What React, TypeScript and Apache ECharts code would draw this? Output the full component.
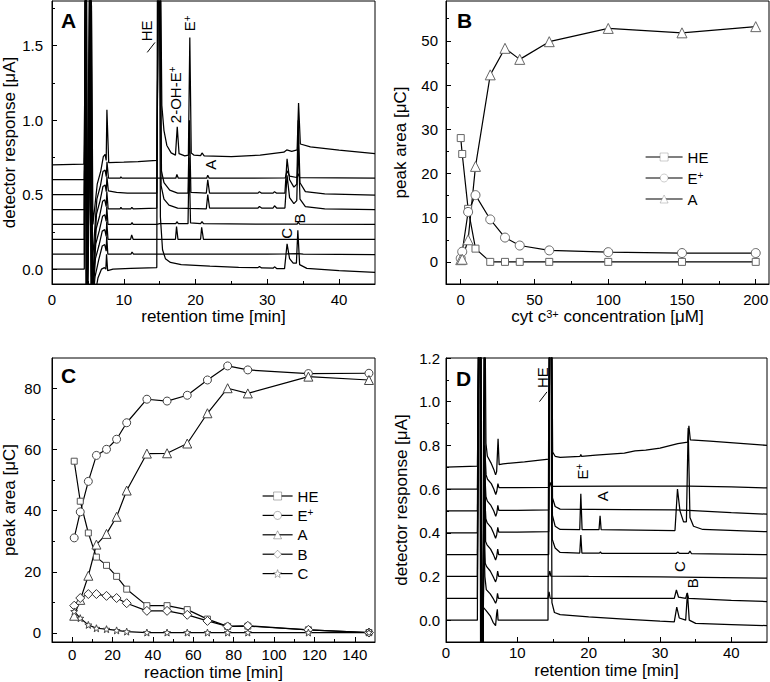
import React, { useEffect, useRef } from 'react';
import * as echarts from 'echarts';

const FONT = "'Liberation Sans', Arial, Helvetica, sans-serif";

// ---------- Panel A: chromatograms (retention time [min], response [µA]) ----------
const chromA0 = [[0,0.0],[4.5,0.0],[4.62,2.2],[4.75,-0.3],[4.9,0.05],[5.25,2.2],[5.45,-0.3],[5.9,-0.2],[6.4,-0.06],[6.9,0.0],[7.3,0.01],[7.5,0.0],[7.6,0.1],[7.75,-0.01],[8.5,0.0],[11,0.005],[14.6,0.01],[14.7,2.2],[14.95,2.2],[15.1,0.35],[15.4,0.13],[15.8,0.07],[16.5,0.045],[18,0.03],[22,0.02],[26,0.012],[28.7,0.01],[28.9,0.018],[29.2,0.008],[30.8,0.006],[31.0,0.015],[31.3,0.004],[32.4,0.003],[32.75,0.17],[33.1,0.07],[33.6,0.04],[34.05,0.04],[34.25,0.26],[34.5,0.03],[35.5,0.005],[40,-0.01],[45,-0.022]];
const chromA1 = [[0,0.1],[4.5,0.1],[4.65,2.2],[4.8,-0.3],[4.95,0.12],[5.3,2.2],[5.5,-0.3],[6.0,-0.05],[6.5,0.06],[7.0,0.155],[7.35,0.165],[7.55,0.12],[7.62,0.22],[7.78,0.1],[9,0.1],[11.0,0.1],[11.15,0.115],[11.35,0.1],[14.6,0.1],[17,0.1],[20,0.1],[25,0.1],[30,0.1],[32.7,0.102],[34.3,0.104],[35,0.1],[45,0.098]];
const chromA2 = [[0,0.2],[4.5,0.2],[4.68,2.2],[4.83,-0.3],[5.0,0.22],[5.35,2.2],[5.55,-0.3],[6.05,0.07],[6.55,0.16],[7.0,0.255],[7.35,0.265],[7.55,0.22],[7.63,0.32],[7.8,0.2],[9,0.2],[10.95,0.2],[11.1,0.23],[11.3,0.2],[14.6,0.2],[17.2,0.2],[17.35,0.285],[17.55,0.2],[20.7,0.2],[20.85,0.28],[21.1,0.2],[30,0.2],[45,0.2]];
const chromA3 = [[0,0.3],[4.5,0.3],[4.7,2.2],[4.85,-0.3],[5.05,0.33],[5.4,2.2],[5.6,-0.2],[6.1,0.17],[6.6,0.26],[7.05,0.355],[7.35,0.365],[7.55,0.32],[7.63,0.42],[7.8,0.3],[9,0.3],[11.0,0.3],[11.15,0.312],[11.3,0.3],[14.6,0.3],[15.0,0.305],[17.25,0.305],[17.4,0.318],[17.6,0.305],[18.95,0.305],[19.1,0.75],[19.3,0.31],[20.7,0.305],[20.9,0.318],[21.1,0.305],[30,0.302],[34.15,0.302],[34.3,0.315],[34.5,0.302],[45,0.3]];
const chromA4 = [[0,0.4],[4.5,0.4],[4.72,2.2],[4.87,-0.3],[5.1,0.45],[5.42,2.2],[5.62,-0.15],[6.15,0.27],[6.65,0.36],[7.05,0.455],[7.35,0.465],[7.55,0.42],[7.64,0.52],[7.82,0.405],[9.5,0.405],[9.6,0.415],[9.75,0.405],[11.0,0.405],[11.12,0.415],[11.3,0.405],[14.6,0.41],[14.8,2.2],[15.0,2.2],[15.2,0.56],[15.6,0.47],[16.3,0.43],[17.5,0.41],[19,0.407],[21.5,0.405],[21.7,0.5],[21.95,0.41],[28.7,0.41],[28.9,0.42],[29.2,0.41],[30.8,0.41],[31.0,0.425],[31.3,0.41],[32.45,0.41],[32.75,0.63],[33.1,0.48],[33.7,0.44],[34.1,0.46],[34.3,0.85],[34.55,0.47],[35.3,0.42],[38,0.405],[45,0.4]];
const chromA5 = [[0,0.5],[4.5,0.5],[4.75,2.2],[4.9,-0.3],[5.15,0.55],[5.45,2.2],[5.65,-0.1],[6.2,0.37],[6.7,0.46],[7.1,0.555],[7.4,0.565],[7.56,0.52],[7.65,0.62],[7.85,0.525],[9,0.515],[10.5,0.51],[14.6,0.51],[14.85,2.2],[15.05,2.2],[15.25,0.66],[15.6,0.58],[16.4,0.53],[17.5,0.51],[18.95,0.51],[19.15,1.0],[19.35,0.515],[21.5,0.51],[21.7,0.6],[21.95,0.51],[28.7,0.51],[28.9,0.52],[29.2,0.51],[30.8,0.51],[31.0,0.52],[31.3,0.51],[32.45,0.51],[32.75,0.74],[33.1,0.6],[33.7,0.55],[34.1,0.57],[34.3,1.0],[34.55,0.58],[35.3,0.52],[38,0.505],[45,0.497]];
const chromA6 = [[0,0.6],[4.5,0.6],[4.78,2.2],[4.92,-0.3],[5.1,0.95],[5.25,0.65],[5.5,-0.05],[6.25,0.47],[6.75,0.56],[7.1,0.655],[7.4,0.665],[7.56,0.62],[7.66,0.72],[7.87,0.61],[9.5,0.61],[9.6,0.62],[9.75,0.61],[14.6,0.61],[17.25,0.61],[17.4,0.635],[17.6,0.61],[21.55,0.61],[21.7,0.63],[21.9,0.61],[32.5,0.612],[32.75,0.66],[33.1,0.625],[34.1,0.615],[34.3,0.64],[34.5,0.615],[45,0.61]];
const chromA7 = [[0,0.7],[4.45,0.705],[4.8,2.2],[4.95,-0.3],[5.2,0.6],[5.5,1.77],[5.7,0.3],[6.3,0.57],[6.8,0.66],[7.15,0.755],[7.4,0.77],[7.55,0.73],[7.65,1.07],[7.9,0.715],[10,0.718],[12,0.722],[14.6,0.73],[14.9,2.2],[15.1,2.2],[15.3,1.1],[15.6,0.93],[16.0,0.83],[16.6,0.78],[17.2,0.765],[17.45,0.955],[17.7,0.775],[18.5,0.76],[19.0,0.765],[19.2,1.555],[19.4,0.78],[19.8,0.765],[20.7,0.762],[20.9,0.78],[21.2,0.76],[25,0.755],[29,0.765],[32.3,0.785],[32.7,0.80],[33.4,0.79],[34.15,0.8],[34.35,1.115],[34.6,0.84],[36,0.82],[40,0.798],[45,0.775]];
const chromA = [chromA0, chromA1, chromA2, chromA3, chromA4, chromA5, chromA6, chromA7];

// ---------- Panel D: chromatograms ----------
const chromD0 = [[0,0.0],[4.4,0.0],[4.55,1.5],[4.75,1.5],[4.85,-0.2],[5.05,-0.2],[5.2,0.06],[5.6,0.045],[6.2,0.02],[6.6,-0.01],[6.95,-0.025],[7.1,0.03],[7.2,0.05],[7.3,0.0],[7.6,0.0],[10,0.0],[14.3,0.0],[14.45,1.5],[14.7,1.5],[14.85,0.08],[15.2,0.035],[16,0.025],[20,0.015],[25,0.005],[30,-0.005],[32.0,-0.008],[32.35,0.06],[32.7,0.01],[33.6,0.0],[33.85,0.125],[34.1,0.0],[35,-0.015],[40,-0.02],[45,-0.025]];
const chromD1 = [[0,0.1],[4.4,0.1],[4.58,1.5],[4.78,1.5],[4.88,-0.2],[5.08,-0.2],[5.3,0.4],[5.45,0.2],[5.65,0.14],[6.2,0.12],[6.6,0.1],[6.95,0.077],[7.1,0.09],[7.22,0.123],[7.35,0.1],[10,0.1],[14.3,0.1],[14.45,0.13],[14.6,0.1],[20,0.1],[32.0,0.1],[32.3,0.138],[32.6,0.105],[33.6,0.1],[33.8,0.123],[34.0,0.1],[40,0.09],[45,0.085]];
const chromD2 = [[0,0.2],[4.4,0.2],[4.6,1.5],[4.8,1.5],[4.9,-0.2],[5.1,-0.2],[5.3,0.5],[5.5,0.26],[5.7,0.245],[6.2,0.225],[6.6,0.2],[6.95,0.175],[7.1,0.19],[7.24,0.225],[7.38,0.2],[10,0.2],[14.4,0.2],[14.55,0.225],[14.7,0.202],[20,0.2],[30,0.198],[45,0.192]];
const chromD3 = [[0,0.3],[4.4,0.3],[4.62,1.5],[4.82,1.5],[4.92,-0.2],[5.12,-0.2],[5.35,1.5],[5.55,0.36],[5.75,0.345],[6.25,0.325],[6.65,0.3],[6.95,0.275],[7.1,0.29],[7.25,0.325],[7.38,0.3],[10,0.3],[14.4,0.3],[14.55,1.5],[14.75,1.5],[14.9,0.37],[15.3,0.33],[16,0.31],[18.75,0.307],[18.9,0.39],[19.05,0.307],[21.5,0.307],[21.65,0.312],[21.8,0.306],[32.3,0.306],[32.5,0.312],[32.7,0.306],[34.0,0.306],[34.2,0.316],[34.4,0.305],[45,0.3]];
const chromD4 = [[0,0.4],[4.4,0.4],[4.64,1.5],[4.84,1.5],[4.94,-0.2],[5.14,-0.2],[5.38,0.6],[5.58,0.465],[5.78,0.445],[6.3,0.425],[6.65,0.4],[6.95,0.375],[7.1,0.39],[7.26,0.425],[7.4,0.403],[10,0.403],[14.4,0.405],[14.57,1.5],[14.77,1.5],[14.92,0.48],[15.3,0.43],[16,0.415],[18.75,0.414],[18.9,0.578],[19.08,0.414],[21.45,0.414],[21.6,0.478],[21.75,0.414],[32.1,0.41],[32.45,0.6],[32.8,0.5],[33.3,0.45],[33.7,0.45],[33.95,0.88],[34.2,0.47],[34.7,0.43],[36,0.415],[45,0.405]];
const chromD5 = [[0,0.5],[4.4,0.5],[4.66,1.5],[4.86,1.5],[4.96,-0.2],[5.16,-0.2],[5.4,0.7],[5.6,0.565],[5.8,0.545],[6.3,0.525],[6.7,0.5],[6.97,0.475],[7.12,0.49],[7.27,0.525],[7.4,0.503],[10,0.503],[14.4,0.505],[14.58,1.5],[14.78,1.5],[14.93,0.56],[15.3,0.52],[16,0.508],[25,0.506],[32,0.505],[34,0.503],[40,0.492],[45,0.485]];
const chromD6 = [[0,0.6],[4.4,0.6],[4.68,1.5],[4.88,1.5],[4.98,-0.2],[5.18,-0.2],[5.42,0.8],[5.62,0.665],[5.82,0.645],[6.35,0.625],[6.7,0.6],[6.97,0.575],[7.12,0.59],[7.28,0.625],[7.42,0.607],[10,0.607],[14.4,0.608],[14.6,0.63],[14.75,0.612],[25,0.614],[34,0.614],[40,0.61],[45,0.605]];
const chromD7 = [[0,0.7],[4.4,0.705],[4.7,1.5],[4.9,1.5],[5.0,-0.2],[5.2,-0.2],[5.45,1.5],[5.6,0.81],[5.8,0.75],[6.3,0.72],[6.7,0.69],[6.95,0.665],[7.1,0.68],[7.3,0.83],[7.45,0.712],[8,0.715],[11,0.725],[14.4,0.737],[14.62,1.5],[14.8,1.5],[14.95,0.77],[15.3,0.75],[16,0.745],[18.8,0.75],[18.9,0.758],[19.0,0.75],[21,0.755],[25,0.765],[26.5,0.775],[28,0.778],[30,0.787],[32.5,0.808],[33.9,0.815],[34.05,0.89],[34.25,0.825],[37,0.82],[45,0.80]];
const chromD = [chromD0, chromD1, chromD2, chromD3, chromD4, chromD5, chromD6, chromD7];

// ---------- Panel B: peak area vs cyt c3+ concentration ----------
const cytConc = [0, 1, 5, 10, 20, 30, 40, 60, 100, 150, 200];
const cytHE = [28.0, 24.4, 12.0, 3.0, 0, 0, 0, 0, 0, 0, 0];
const cytE = [0.8, 2.3, 11.3, 15.1, 9.6, 5.5, 3.7, 2.6, 2.2, 2.0, 2.0];
const cytA = [0.5, 0.6, 5.0, 21.6, 42.3, 48.3, 45.8, 49.8, 52.8, 51.8, 53.2];

// ---------- Panel C: peak area vs reaction time ----------
const reactTime = [1, 4, 8, 12, 17, 22, 27, 37, 47, 57, 67, 77, 87, 117, 147];
const rtHE = [56.2, 43.1, 32.7, 24.8, 22.1, 18.5, 14.3, 8.9, 8.9, 7.6, 4.5, 2.1, 2.2, 1.0, 0.1];
const rtE = [31.1, 39.6, 49.6, 58.1, 60.1, 63.4, 68.8, 76.5, 75.9, 77.8, 82.8, 87.4, 86.1, 84.9, 85.0];
const rtA = [5.6, 10.8, 18.7, 28.9, 32.4, 38.0, 46.6, 58.7, 58.8, 62.0, 71.9, 80.1, 78.4, 83.9, 82.8];
const rtB = [8.9, 11.4, 12.7, 12.7, 12.1, 11.4, 9.7, 7.2, 7.2, 5.9, 3.9, 2.1, 2.3, 1.0, 0.1];
const rtC = [7.0, 4.8, 2.6, 1.5, 1.2, 0.8, 0.4, 0.1, 0.1, 0.1, 0.1, 0.1, 0.1, 0.1, 0.1];

// ---------- Tick values ----------
const ticksAx = [0, 10, 20, 30, 40];
const minorAx = [5, 15, 25, 35];
const ticksAy = [0, 0.5, 1.0, 1.5];
const minorAy = [0.25, 0.75, 1.25, 1.75];
const ticksBx = [0, 50, 100, 150, 200];
const minorBx = [25, 75, 125, 175];
const ticksBy = [0, 10, 20, 30, 40, 50];
const minorBy = [5, 15, 25, 35, 45, 55];
const ticksCx = [0, 20, 40, 60, 80, 100, 120, 140];
const minorCx = [10, 30, 50, 70, 90, 110, 130];
const ticksCy = [0, 20, 40, 60, 80];
const minorCy = [10, 30, 50, 70];
const ticksDx = [0, 10, 20, 30, 40];
const minorDx = [5, 15, 25, 35];
const ticksDy = [0, 0.2, 0.4, 0.6, 0.8, 1.0, 1.2];
const minorDy = [0.1, 0.3, 0.5, 0.7, 0.9, 1.1];

// ---------- Peak annotations (time, response, text) ----------
const annotA = [[13.2, 1.6, 'HE'], [17.2, 1.17, '2-OH-E{s|+}'], [19.2, 1.65, 'E{s|+}'], [22.1, 0.70, 'A'], [34.5, 0.34, 'B'], [32.7, 0.24, 'C']];
const leaderA = [[13.27, 1.455], [14.35, 1.522]];
const annotD = [[13.46, 1.11, 'HE'], [19.1, 0.68, 'E{s|+}'], [21.9, 0.567, 'A'], [32.7, 0.245, 'C'], [34.55, 0.169, 'B']];
const leaderD = [[13.1, 1.0], [14.16, 1.045]];

const legendNames: Record<string, string> = {
  HE: 'HE', 'E+': 'E{s|+}', A: 'A',
  HE_c: 'HE', 'E+_c': 'E{s|+}', A_c: 'A', B_c: 'B', C_c: 'C',
};

const STAR = 'path://M12,1 L14.9,8.6 L23,8.9 L16.6,13.9 L18.9,21.8 L12,17.2 L5.1,21.8 L7.4,13.9 L1,8.9 L9.1,8.6 Z';

function mainX(grid: number, min: number, max: number, ticks: number[], name: string, nameGap: number, margin: number) {
  return {
    type: 'value', gridIndex: grid, min, max, position: 'bottom',
    name, nameLocation: 'middle', nameGap, nameMoveOverlap: false,
    nameTextStyle: { fontSize: 17, color: '#000', fontFamily: FONT, rich: { s: { fontSize: 11, lineHeight: 11, verticalAlign: 'top', color: '#000', fontFamily: FONT } } },
    axisLine: { show: true, onZero: false, lineStyle: { color: '#000', width: 1 } },
    axisTick: { show: true, inside: true, length: 5, customValues: ticks, lineStyle: { color: '#000', width: 1 } },
    axisLabel: { show: true, margin, customValues: ticks, fontSize: 15, color: '#000', fontFamily: FONT },
    splitLine: { show: false },
  };
}
function mainY(grid: number, min: number, max: number, ticks: number[], name: string, nameGap: number, margin: number, dec: number) {
  return {
    type: 'value', gridIndex: grid, min, max, position: 'left',
    name, nameLocation: 'middle', nameGap, nameMoveOverlap: false,
    nameTextStyle: { fontSize: 17, color: '#000', fontFamily: FONT },
    axisLine: { show: true, onZero: false, lineStyle: { color: '#000', width: 1 } },
    axisTick: { show: true, inside: true, length: 5, customValues: ticks, lineStyle: { color: '#000', width: 1 } },
    axisLabel: { show: true, margin, customValues: ticks, fontSize: 15, color: '#000', fontFamily: FONT, formatter: (v: number) => v.toFixed(dec) },
    splitLine: { show: false },
  };
}
function minorAxis(grid: number, min: number, max: number, ticks: number[], pos: string) {
  return {
    type: 'value', gridIndex: grid, min, max, position: pos,
    axisLine: { show: false, onZero: false },
    axisTick: { show: true, inside: true, length: 3, customValues: ticks, lineStyle: { color: '#000', width: 1 } },
    axisLabel: { show: false },
    splitLine: { show: false },
  };
}

function traceSeries(data: number[][], axis: number) {
  return {
    type: 'line', xAxisIndex: axis, yAxisIndex: axis, data, symbol: 'none', showSymbol: false,
    lineStyle: { color: '#000', width: 1.25 }, silent: true, clip: true, z: 2,
  };
}
function annotSeries(items: any[], axis: number) {
  return {
    type: 'custom', xAxisIndex: axis, yAxisIndex: axis, silent: true, z: 6, clip: false,
    data: items.map((a) => [a[0], a[1]]),
    renderItem: (params: any, api: any) => {
      const p = api.coord([api.value(0), api.value(1)]);
      return {
        type: 'text', x: p[0], y: p[1], rotation: Math.PI / 2,
        style: {
          text: items[params.dataIndex][2], fill: '#000', fontSize: 15, fontFamily: FONT,
          align: 'center', verticalAlign: 'middle',
          rich: { s: { fontSize: 10, lineHeight: 10, verticalAlign: 'top', fill: '#000', fontFamily: FONT } },
        },
      };
    },
  };
}
function leaderSeries(data: number[][], axis: number) {
  return { type: 'line', xAxisIndex: axis, yAxisIndex: axis, data, symbol: 'none', silent: true, lineStyle: { color: '#000', width: 1 }, z: 6 };
}
function markerSeries(name: string, axis: number, xs: number[], ys: number[], symbol: string, size: number, border: string) {
  return {
    name, type: 'line', xAxisIndex: axis, yAxisIndex: axis,
    data: xs.map((x, i) => [x, ys[i]]),
    symbol, symbolSize: size, showSymbol: true, silent: true, clip: true,
    lineStyle: { color: '#000', width: 1.2 },
    itemStyle: { color: '#fff', borderColor: border, borderWidth: 1 },
    z: 3,
  };
}

const gridBase = { show: true, borderColor: '#000', borderWidth: 1, backgroundColor: 'transparent', containLabel: false, outerBoundsMode: 'none' };

const legendText = {
  fontSize: 15, color: '#000', fontFamily: FONT, lineHeight: 16,
  rich: { s: { fontSize: 10, lineHeight: 10, verticalAlign: 'top', color: '#000', fontFamily: FONT } },
};

const option: any = {
  animation: false,
  backgroundColor: '#fff',
  textStyle: { fontFamily: FONT },
  grid: [
    { ...gridBase, left: 52, top: 1, width: 323, height: 283 },
    { ...gridBase, left: 446, top: 1, width: 323, height: 283 },
    { ...gridBase, left: 52, top: 358, width: 323, height: 284 },
    { ...gridBase, left: 446, top: 358, width: 321, height: 284 },
  ],
  xAxis: [
    mainX(0, 0, 45, ticksAx, 'retention time [min]', 24, 8),
    mainX(1, -10, 209, ticksBx, 'cyt c{s|3+} concentration [μM]', 24, 8),
    mainX(2, -10, 150, ticksCx, 'reaction time [min]', 22, 5),
    mainX(3, 0, 45, ticksDx, 'retention time [min]', 20, 3),
    minorAxis(0, 0, 45, minorAx, 'bottom'),
    minorAxis(1, -10, 209, minorBx, 'bottom'),
    minorAxis(2, -10, 150, minorCx, 'bottom'),
    minorAxis(3, 0, 45, minorDx, 'bottom'),
  ],
  yAxis: [
    mainY(0, -0.1, 1.8, ticksAy, 'detector response [μA]', 34, 9, 1),
    mainY(1, -5, 59, ticksBy, 'peak area [μC]', 37, 8, 0),
    mainY(2, -3, 90, ticksCy, 'peak area [μC]', 34, 11, 0),
    mainY(3, -0.1, 1.2, ticksDy, 'detector response [μA]', 36, 6, 1),
    minorAxis(0, -0.1, 1.8, minorAy, 'left'),
    minorAxis(1, -5, 59, minorBy, 'left'),
    minorAxis(2, -3, 90, minorCy, 'left'),
    minorAxis(3, -0.1, 1.2, minorDy, 'left'),
  ],
  legend: [
    {
      show: true, orient: 'vertical', left: 640, top: 144, itemWidth: 37, itemHeight: 10, itemGap: 5,
      data: ['HE', 'E+', 'A'], selectedMode: false, textStyle: legendText,
      itemStyle: { color: '#fff', borderColor: '#555', borderWidth: 0.3 },
      lineStyle: { color: '#000', width: 1.2 },
      formatter: (n: string) => legendNames[n] ?? n,
    },
    {
      show: true, orient: 'vertical', left: 257, top: 483, itemWidth: 30, itemHeight: 10, itemGap: 3.4,
      data: ['HE_c', 'E+_c', 'A_c', 'B_c', 'C_c'], selectedMode: false, textStyle: legendText,
      itemStyle: { color: '#fff', borderColor: '#222', borderWidth: 0.35 },
      lineStyle: { color: '#000', width: 1.2 },
      formatter: (n: string) => legendNames[n] ?? n,
    },
  ],
  graphic: [
    { type: 'text', left: 61, top: 10, style: { text: 'A', font: `bold 21px ${FONT}`, fill: '#000' } },
    { type: 'text', left: 457, top: 10, style: { text: 'B', font: `bold 21px ${FONT}`, fill: '#000' } },
    { type: 'text', left: 61, top: 365, style: { text: 'C', font: `bold 21px ${FONT}`, fill: '#000' } },
    { type: 'text', left: 456, top: 368, style: { text: 'D', font: `bold 21px ${FONT}`, fill: '#000' } },
  ],
  series: [
    ...chromA.map((d) => traceSeries(d, 0)),
    annotSeries(annotA, 0),
    leaderSeries(leaderA, 0),
    ...chromD.map((d) => traceSeries(d, 3)),
    annotSeries(annotD, 3),
    leaderSeries(leaderD, 3),
    markerSeries('HE', 1, cytConc, cytHE, 'rect', 7, '#666'),
    markerSeries('E+', 1, cytConc, cytE, 'circle', 9, '#666'),
    markerSeries('A', 1, cytConc, cytA, 'triangle', 10, '#666'),
    markerSeries('HE_c', 2, reactTime, rtHE, 'rect', 6, '#555'),
    markerSeries('E+_c', 2, reactTime, rtE, 'circle', 8, '#444'),
    markerSeries('A_c', 2, reactTime, rtA, 'triangle', 9, '#444'),
    markerSeries('B_c', 2, reactTime, rtB, 'diamond', 9, '#333'),
    markerSeries('C_c', 2, reactTime, rtC, STAR, 7, '#444'),
  ],
};

export default function App() {
  const ref = useRef<HTMLDivElement>(null);
  useEffect(() => {
    document.body.style.margin = '0';
    const chart = echarts.init(ref.current as HTMLDivElement, undefined, { renderer: 'svg' });
    chart.setOption(option);
    return () => chart.dispose();
  }, []);
  return <div ref={ref} style={{ position: 'absolute', left: 0, top: 0, width: 770, height: 682, background: '#fff' }} />;
}
